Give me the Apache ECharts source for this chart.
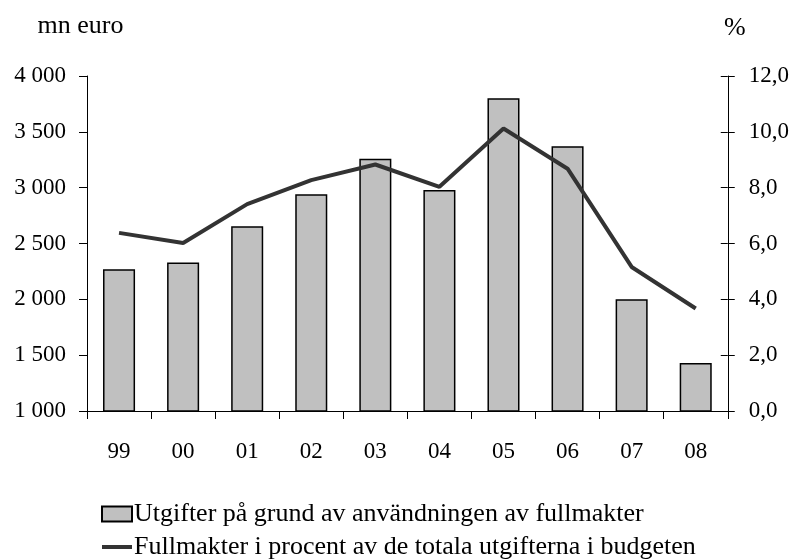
<!DOCTYPE html>
<html>
<head>
<meta charset="utf-8">
<script src="https://cdn.jsdelivr.net/npm/echarts@6/dist/echarts.min.js"></script>
<style>
  html, body { margin: 0; padding: 0; background: #fff; }
  #chart { width: 792px; height: 560px; }
</style>
</head>
<body>
<div id="chart"></div>
<script>
// år (två siffror)
const years = ['99', '00', '01', '02', '03', '04', '05', '06', '07', '08']
// mn euro
const utgifter = [2270, 2330, 2655, 2940, 3260, 2980, 3800, 3370, 2000, 1430]
// procent av totala utgifterna
const fullmakterPct = [6.38, 6.02, 7.41, 8.27, 8.83, 8.03, 10.12, 8.68, 5.16, 3.67]

const barName = 'Utgifter på grund av användningen av fullmakter'
const lineName = 'Fullmakter i procent av de totala utgifterna i budgeten'

const font = 'Liberation Serif, Times New Roman, serif'
const tickTxt = { fontFamily: font, fontSize: 23, color: '#000' }
const bigTxt = { fontFamily: font, fontSize: 26, color: '#000' }

const fmtThousand = v => String(v).replace(/\B(?=(\d{3})+(?!\d))/g, ' ')
const fmtPct = v => v.toFixed(1).replace('.', ',')

const chart = echarts.init(document.getElementById('chart'))
const option = {
  animation: false,
  textStyle: tickTxt,
  grid: { left: 87, right: 63, top: 76, bottom: 149 },
  legend: {
    orient: 'vertical',
    left: 96,
    top: 496,
    height: 100,
    itemGap: 7,
    itemWidth: 30,
    itemHeight: 15,
    textStyle: { ...bigTxt, padding: [0, 0, 0, -3] },
    data: [
      { name: barName, icon: 'rect' },
      { name: lineName, icon: 'path://M0,0H30V4H0Z', itemStyle: { color: '#333' } }
    ]
  },
  xAxis: {
    type: 'category',
    data: years,
    axisLine: { lineStyle: { color: '#000', width: 1 } },
    axisTick: { show: true, length: 8, lineStyle: { color: '#000' } },
    axisLabel: { ...tickTxt, margin: 29 }
  },
  yAxis: [
    {
      type: 'value',
      min: 1000,
      max: 4000,
      interval: 500,
      name: 'mn euro',
      nameLocation: 'end',
      nameGap: 37,
      nameTextStyle: { ...bigTxt, align: 'center', padding: [0, 13, 0, 0] },
      axisLine: { show: true, lineStyle: { color: '#000' } },
      axisTick: { show: true, length: 8, lineStyle: { color: '#000' } },
      splitLine: { show: false },
      axisLabel: { ...tickTxt, margin: 21, formatter: fmtThousand }
    },
    {
      type: 'value',
      min: 0,
      max: 12,
      interval: 2,
      position: 'right',
      name: '%',
      nameGap: 35,
      nameTextStyle: { ...bigTxt, align: 'center', padding: [0, 0, 0, 14] },
      axisLine: { show: true, lineStyle: { color: '#000' } },
      axisTick: { show: true, length: 7, lineStyle: { color: '#000' } },
      splitLine: { show: false },
      axisLabel: { ...tickTxt, margin: 21, formatter: fmtPct }
    },
    {
      // inåtriktade streck på högra axeln
      type: 'value',
      min: 0,
      max: 12,
      interval: 2,
      position: 'right',
      axisLine: { show: false },
      axisTick: { show: true, inside: true, length: 7, lineStyle: { color: '#000' } },
      axisLabel: { show: false },
      splitLine: { show: false }
    }
  ],
  series: [
    {
      name: barName,
      type: 'bar',
      data: utgifter,
      barWidth: '50%',
      itemStyle: { color: '#c0c0c0', borderColor: '#000', borderWidth: 1.5 }
    },
    {
      name: lineName,
      type: 'line',
      yAxisIndex: 1,
      data: fullmakterPct,
      symbol: 'none',
      lineStyle: { color: '#333', width: 4 },
      itemStyle: { color: '#333' }
    }
  ]
}
chart.setOption(option)
</script>
</body>
</html>
